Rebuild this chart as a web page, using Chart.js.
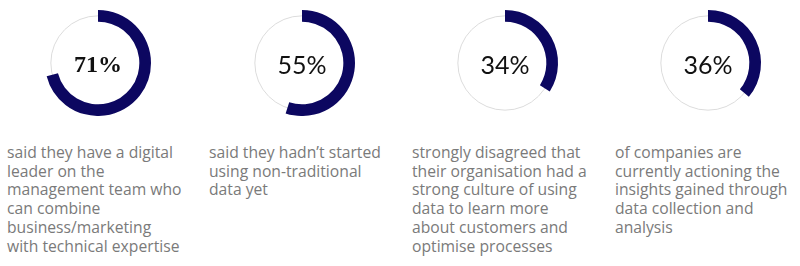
<!DOCTYPE html>
<html>
<head>
<meta charset="utf-8">
<script src="https://cdn.jsdelivr.net/npm/chart.js@4/dist/chart.umd.min.js"></script>
<style>
  body { margin: 0; background: #fff; width: 800px; height: 266px; overflow: hidden; position: relative; }
  .donut { position: absolute; top: 10px; width: 200px; height: 106px; }
  .caption { position: absolute; top: 143px; margin: 0; font-family: "Open Sans", sans-serif; font-size: 15.7px; line-height: 18.7px; color: #7a7a7a; white-space: nowrap; }
</style>
</head>
<body>
<div class="donut" style="left:-2px"><canvas id="d0"></canvas></div>
<div class="donut" style="left:202px"><canvas id="d1"></canvas></div>
<div class="donut" style="left:405px"><canvas id="d2"></canvas></div>
<div class="donut" style="left:608px"><canvas id="d3"></canvas></div>
<p class="caption" id="c0" style="left:7px"></p>
<p class="caption" id="c1" style="left:209px"></p>
<p class="caption" id="c2" style="left:412px"></p>
<p class="caption" id="c3" style="left:615px"></p>
<script>
var percents = [71, 55, 34, 36];
var valueFonts = ['bold 24px "Liberation Serif"', '25px Lato', '25px Lato', '25px Lato'];
var captions = [
    ["said they have a digital", "leader on the", "management team who", "can combine", "business/marketing", "with technical expertise"],
    ["said they hadn\u2019t started", "using non-traditional", "data yet"],
    ["strongly disagreed that", "their organisation had a", "strong culture of using", "data to learn more", "about customers and", "optimise processes"],
    ["of companies are", "currently actioning the", "insights gained through", "data collection and", "analysis"]
];

// thin grey track and the number in the middle
var ringPlugin = {
    id: 'ring',
    beforeDatasetsDraw(chart) {
        var arc = chart.getDatasetMeta(0).data[0];
        var ctx = chart.ctx;
        ctx.save();
        ctx.beginPath();
        ctx.arc(arc.x, arc.y, (arc.outerRadius + arc.innerRadius) / 2, 0, Math.PI * 2);
        ctx.strokeStyle = '#dcdcdc';
        ctx.lineWidth = 1;
        ctx.stroke();
        ctx.restore();
    },
    afterDatasetsDraw(chart, args, opts) {
        var arc = chart.getDatasetMeta(0).data[0];
        var ctx = chart.ctx;
        ctx.save();
        ctx.font = opts.font;
        ctx.fillStyle = '#111';
        ctx.textAlign = 'center';
        ctx.textBaseline = 'middle';
        ctx.fillText(opts.text, arc.x, arc.y + 3);
        ctx.restore();
    }
};

for (let i = 0; i < percents.length; i++) {
    document.getElementById("c" + i).innerHTML = captions[i].join("<br>");
    new Chart(document.getElementById("d" + i), {
        type: 'doughnut',
        data: {
            labels: ['yes', 'rest'],
            datasets: [{
                data: [percents[i], 100 - percents[i]],
                backgroundColor: ['#0c0760', 'rgba(0,0,0,0)'],
                borderWidth: 0
            }]
        },
        options: {
            responsive: true,
            maintainAspectRatio: false,
            animation: false,
            cutout: '78%',
            events: [],
            plugins: {
                legend: { display: false },
                tooltip: { enabled: false },
                ring: { text: percents[i] + '%', font: valueFonts[i] }
            }
        },
        plugins: [ringPlugin]
    });
}
</script>
</body>
</html>
